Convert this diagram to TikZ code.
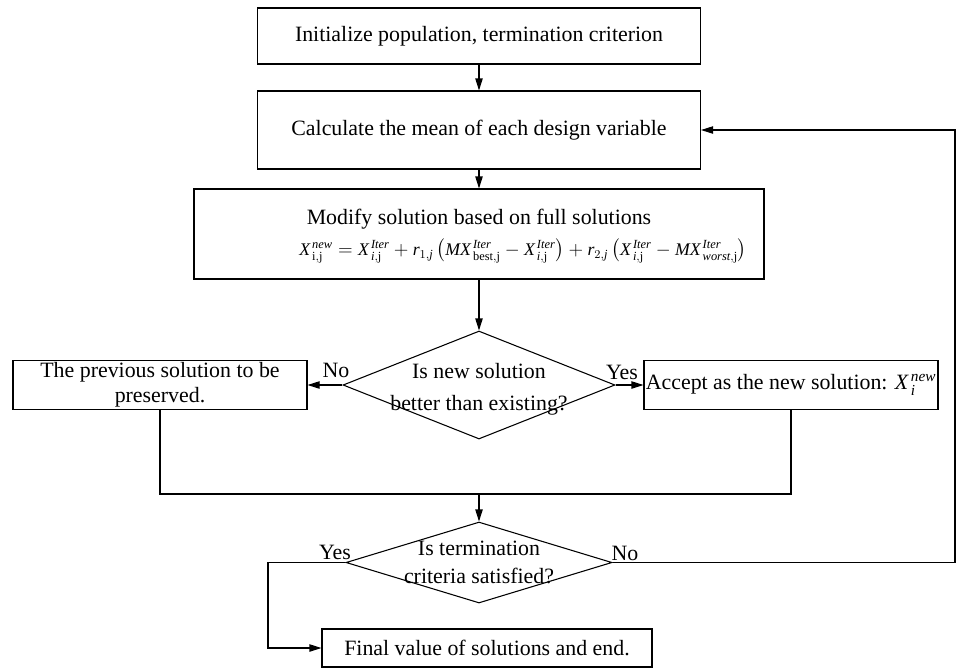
\documentclass[tikz,border=0pt]{standalone}
\usepackage{amsmath}
\usepackage{fontspec}
\setmainfont{Liberation Serif}
\usepackage{tikz}
\usetikzlibrary{shapes.geometric}
\usetikzlibrary{arrows.meta}
\newcommand{\iv}[1]{\textit{#1}}

\begin{document}
\begin{tikzpicture}[x=0.75pt, y=-0.75pt, line width=0.8pt,
  blk/.style={draw, rectangle, align=center, inner sep=1pt},
  cond/.style={draw, diamond, inner sep=0pt},
  arr/.style={-{Triangle[length=9pt,width=5.5pt]}}]
  \useasboundingbox (0,0) rectangle (959,669);
  \fontsize{16.4}{19}\selectfont
  \node[blk, minimum width=332.25pt, minimum height=42pt] (init) at (479,36) {Initialize population, termination criterion};
  \node[blk, minimum width=332.25pt, minimum height=58.5pt] (mean) at (479,130) {Calculate the mean of each design variable};
  \node[blk, minimum width=427.5pt, minimum height=67.5pt] (modify) at (479,234) {};
  \node[inner sep=0pt] (mtitle) at (479,219) {Modify solution based on full solutions};
  \node[inner sep=0pt, font=\fontsize{13.3}{15}\selectfont] (mform) at (523,251)
   {$\iv{X}^{\,\iv{new}}_{\,\mathrm{i,j}} = \iv{X}^{\,\iv{Iter}}_{\,\iv{i},\mathrm{j}} + \iv{r}_{1,\iv{j}}\left(\iv{MX}^{\,\iv{Iter}}_{\,\mathrm{best,j}} - \iv{X}^{\,\iv{Iter}}_{\,\iv{i},\mathrm{j}}\right) + \iv{r}_{2,\iv{j}}\left(\iv{X}^{\,\iv{Iter}}_{\,\iv{i},\mathrm{j}} - \iv{MX}^{\,\iv{Iter}}_{\,\iv{worst},\mathrm{j}}\right)$};
  \node[cond, minimum width=204pt, minimum height=81pt,
   label={[align=center, yshift=-3.5pt, font=\fontsize{16.4}{24}\selectfont]center:Is new solution\\better than existing?}] (d1) at (479,385) {};
  \node[blk, minimum width=220.5pt, minimum height=36.75pt] (prev) at (160,385) {The previous solution to be\\preserved.};
  \node[blk, minimum width=220.5pt, minimum height=36.75pt] (accept) at (791,385) {Accept as the new solution: $\iv{X}^{\,\iv{new}}_{\,\iv{i}}$};
  \coordinate (join) at (479,494);
  \node[cond, minimum width=199.5pt, minimum height=60.75pt,
   label={[align=center, font=\fontsize{16.4}{21}\selectfont]center:Is termination\\criteria satisfied?}] (d2) at (479,562.5) {};
  \node[blk, minimum width=247.5pt, minimum height=28.5pt] (final) at (487,648) {Final value of solutions and end.};
  \coordinate (ycorner) at (268,562.5);
  \coordinate (ncorner) at (955,562.5);
  \node[anchor=base] (no1) at (336,377) {No};
  \node[anchor=base] (yes1) at (622,379) {Yes};
  \node[anchor=base] (yes2) at (335,559) {Yes};
  \node[anchor=base] (no2) at (625,560) {No};
  \foreach \from/\to in {init/mean, mean/modify, modify/d1, d1/prev, d1/accept, join/d2}
   \draw[arr] (\from) -- (\to);
  \draw (prev.south) |- (join) -| (accept.south);
  \draw[arr] (d2.west) -- (ycorner) |- (final.west);
  \draw[arr] (d2.east) -- (ncorner) |- (mean.east);
\end{tikzpicture}
\end{document}
